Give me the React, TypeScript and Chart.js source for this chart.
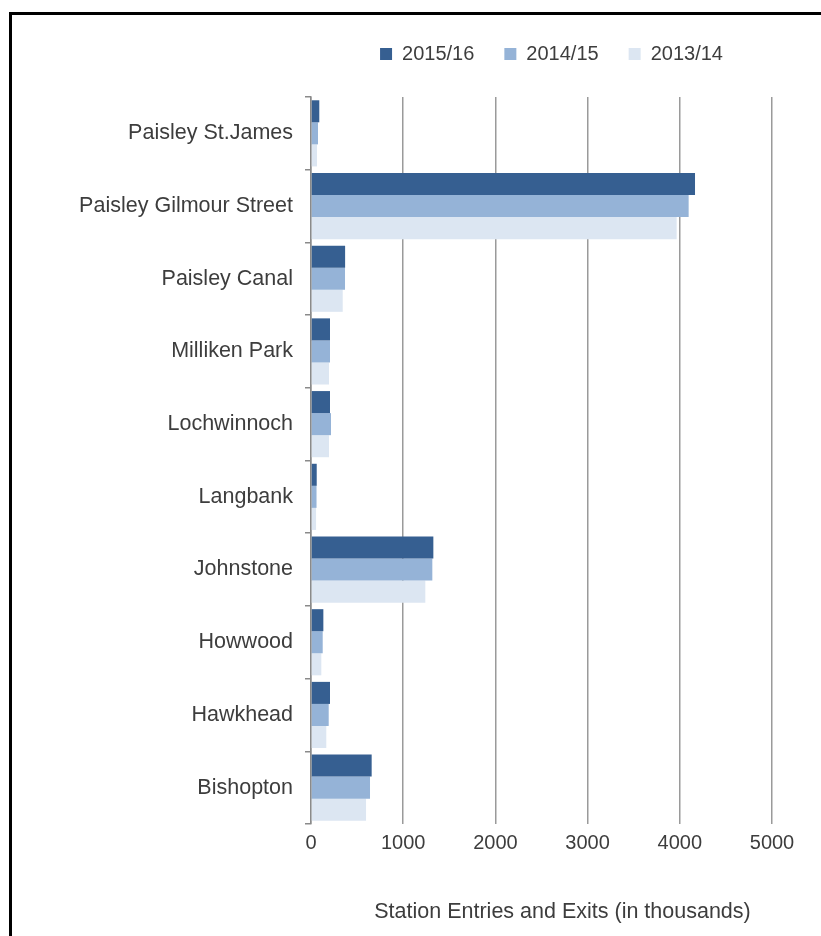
import React, { useEffect, useRef } from 'react';
import { Chart, registerables } from 'chart.js';

Chart.register(...registerables);

const stations = [
  'Paisley St.James',
  'Paisley Gilmour Street',
  'Paisley Canal',
  'Milliken Park',
  'Lochwinnoch',
  'Langbank',
  'Johnstone',
  'Howwood',
  'Hawkhead',
  'Bishopton',
];
const seriesLabels = ['2015/16', '2014/15', '2013/14'];
const values2015 = [90, 4165, 370, 206, 206, 62, 1327, 134, 206, 658];
const values2014 = [76, 4096, 369, 206, 217, 60, 1316, 127, 192, 640];
const values2013 = [65, 3966, 344, 195, 195, 55, 1240, 112, 166, 597];
const seriesColors = ['#365f91', '#95b3d7', '#dce6f2'];
const xMin = 0;
const xMax = 5000;
const xStep = 1000;
const axisTitle = 'Station Entries and Exits (in thousands)';

const TEXT = '#3d3d3d';
const FONT = '"Liberation Sans", Arial, sans-serif';

export default function App() {
  const ref = useRef<HTMLCanvasElement | null>(null);

  useEffect(() => {
    if (!ref.current) return;
    const layoutPlugin = {
      id: 'layoutTweaks',
      beforeInit(chart: any) {
        const legend = chart.legend;
        if (legend) {
          const origFit = legend.fit;
          legend.fit = function () {
            origFit.call(this);
            this.height += 23;
          };
        }
      },
      afterLayout(chart: any) {
        const legend = chart.legend;
        const area = chart.chartArea;
        if (legend && area) {
          const w = legend.right - legend.left;
          const c = (area.left + area.right) / 2 + 10;
          legend.left = c - w / 2;
          legend.right = c + w / 2;
        }
      },
      afterDraw(chart: any) {
        const area = chart.chartArea;
        const ctx = chart.ctx;
        ctx.save();
        ctx.font = `21.5px ${FONT}`;
        ctx.fillStyle = TEXT;
        ctx.textAlign = 'center';
        ctx.textBaseline = 'middle';
        ctx.fillText(axisTitle, (area.left + area.right) / 2 + 21, chart.height - 27);
        ctx.restore();
      },
    };

    const chart = new Chart(ref.current, {
      type: 'bar',
      data: {
        labels: stations,
        datasets: [values2015, values2014, values2013].map((d, i) => ({
          label: seriesLabels[i],
          data: d,
          backgroundColor: seriesColors[i],
          borderWidth: 0,
          categoryPercentage: 0.91,
          barPercentage: 1.0,
        })),
      },
      options: {
        indexAxis: 'y',
        animation: false,
        responsive: false,
        maintainAspectRatio: false,
        layout: { padding: { left: 0, right: 49, top: 0, bottom: 77 } },
        plugins: {
          tooltip: { enabled: false },
          legend: {
            display: true,
            position: 'top',
            labels: {
              boxWidth: 12,
              boxHeight: 12,
              padding: 30,
              color: TEXT,
              font: { family: FONT, size: 20 },
            },
          },
        },
        scales: {
          x: {
            type: 'linear',
            min: xMin,
            max: xMax,
            ticks: {
              stepSize: xStep,
              padding: 7,
              color: TEXT,
              font: { family: FONT, size: 20 },
              callback: (v: any) => String(v),
            },
            grid: {
              color: '#9a9a9a',
              lineWidth: 1.5,
              drawTicks: false,
            },
            border: { display: false },
          },
          y: {
            type: 'category',
            afterFit(scale: any) {
              scale.width = 299;
            },
            ticks: {
              padding: 12,
              color: TEXT,
              font: { family: FONT, size: 21.5 },
            },
            grid: {
              offset: true,
              drawOnChartArea: false,
              drawTicks: true,
              tickLength: 6,
              color: '#8a8a8a',
              lineWidth: 1.5,
            },
            border: { display: true, color: '#8a8a8a', width: 1.5 },
          },
        },
      },
      plugins: [layoutPlugin],
    });
    return () => chart.destroy();
  }, []);

  return (
    <div
      style={{
        position: 'fixed',
        left: 9,
        top: 12,
        width: 812,
        height: 924,
        borderTop: '3px solid #000',
        borderLeft: '3px solid #000',
        boxSizing: 'border-box',
      }}
    >
      <canvas
        ref={ref}
        width={809}
        height={925}
        style={{ position: 'absolute', left: 0, top: -1, width: 809, height: 925 }}
      />
    </div>
  );
}
